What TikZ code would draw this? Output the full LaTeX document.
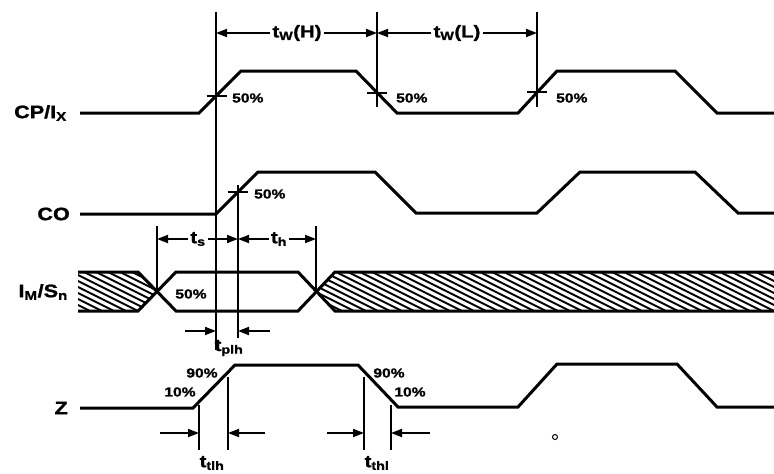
\documentclass[tikz,border=0pt]{standalone}
\usepackage{fontspec}
\setmainfont{Liberation Sans}[FakeStretch=1.2, BoldFeatures={FakeBold=1.3}]
\usetikzlibrary{arrows.meta}
\begin{document}
\begin{tikzpicture}[x=1pt,y=-1pt,
  sig/.style={line width=3pt,line join=miter,line cap=butt},
  refl/.style={line width=1.8pt},
  hatch/.style={line width=2pt},
  dimarr/.style={line width=1.8pt,-{Triangle[length=11pt,width=8pt]}},
  lbl/.style={font=\fontsize{18}{18}\selectfont\bfseries,inner sep=0pt,anchor=east},
  pct/.style={font=\fontsize{13}{13}\selectfont\bfseries,inner sep=0pt},
  tlab/.style={font=\fontsize{17}{17}\selectfont\bfseries,inner sep=2pt}
]
\useasboundingbox (0,0) rectangle (774,474);

% reference coordinates of vertical lines
\coordinate (vA) at (216,0);
\coordinate (vB) at (238,0);
\coordinate (vC) at (377,0);
\coordinate (vD) at (537,0);
\coordinate (vE) at (157,0);
\coordinate (vF) at (316,0);
\coordinate (vG) at (199,0);
\coordinate (vH) at (228,0);
\coordinate (vI) at (364,0);
\coordinate (vJ) at (391,0);

% signal labels
\node[lbl] (lcp) at (67,113) {CP/I\textsubscript{X}};
\node[lbl] (lco) at (70,214) {CO};
\node[lbl] (lim) at (68,292) {I\textsubscript{M}/S\textsubscript{n}};
\node[lbl] (lz)  at (68,408) {Z};

% waveforms
\draw[sig] (80,113) -- (199,113) -- (241,71) -- (356,71) -- (397,113) -- (518,113)
  -- (557,71) -- (675,71) -- (717,113) -- (774,113);
\draw[sig] (80,214) -- (216,214) -- (258,172) -- (375,172) -- (416,213) -- (537,213)
  -- (580,172) -- (695,172) -- (738,213) -- (774,213);
\draw[sig] (80,408) -- (193,408) -- (235,365) -- (358,365) -- (398,407) -- (518,407)
  -- (557,364) -- (677,364) -- (717,407) -- (774,407);

% I_M/S_n hatched regions
\begin{scope}
  \clip (78,272) -- (138,272) -- (157,292) -- (138,311) -- (78,311) -- cycle;
  \foreach \i in {0,12,...,168} \draw[hatch] (\i,272) -- ++(78,39);
\end{scope}
\begin{scope}
  \clip (316,292) -- (335,272) -- (780,272) -- (780,311) -- (335,311) -- cycle;
  \foreach \i in {228,240,...,780} \draw[hatch] (\i,272) -- ++(78,39);
\end{scope}
\draw[sig] (78,272) -- (138,272) -- (176,311) -- (298,311) -- (335,272) -- (774,272);
\draw[sig] (78,311) -- (138,311) -- (176,272) -- (298,272) -- (335,311) -- (774,311);

% vertical reference lines
\draw[refl] (vA |- 0,12) -- (vA |- 0,350);
\draw[refl] (vB |- 0,185) -- (vB |- 0,338);
\draw[refl] (vC |- 0,12) -- (vC |- 0,107);
\draw[refl] (vD |- 0,12) -- (vD |- 0,107);
\draw[refl] (vE |- 0,226) -- (vE |- 0,292);
\draw[refl] (vF |- 0,226) -- (vF |- 0,292);
\draw[refl] (vG |- 0,405) -- (vG |- 0,450);
\draw[refl] (vH |- 0,377) -- (vH |- 0,450);
\draw[refl] (vI |- 0,377) -- (vI |- 0,450);
\draw[refl] (vJ |- 0,405) -- (vJ |- 0,450);

% 50% ticks
\draw[refl] (207,96) -- (227,96);
\draw[refl] (367,93) -- (387,93);
\draw[refl] (527,92) -- (547,92);
\draw[refl] (228,192) -- (248,192);

% percent labels
\node[pct,anchor=west] (p1) at (232,98) {50\%};
\node[pct,anchor=west] (p2) at (396,98) {50\%};
\node[pct,anchor=west] (p3) at (556,98) {50\%};
\node[pct,anchor=west] (p4) at (254,194) {50\%};
\node[pct] (p5) at (191,294) {50\%};
\node[pct] (p6) at (202,373) {90\%};
\node[pct] (p7) at (180,392) {10\%};
\node[pct] (p8) at (389,373) {90\%};
\node[pct] (p9) at (410,392) {10\%};

% top dimensions
\node[tlab] (twh) at (297,33) {t\textsubscript{W}(H)};
\draw[dimarr] (twh.west) -- (twh.west -| vA);
\draw[dimarr] (twh.east) -- (twh.east -| vC);
\node[tlab] (twl) at (457,33) {t\textsubscript{W}(L)};
\draw[dimarr] (twl.west) -- (twl.west -| vC);
\draw[dimarr] (twl.east) -- (twl.east -| vD);

% setup / hold
\node[tlab] (ts) at (198,239) {t\textsubscript{s}};
\draw[dimarr] (ts.west) -- (ts.west -| vE);
\draw[dimarr] (ts.east) -- (ts.east -| vB);
\node[tlab] (th) at (279,239) {t\textsubscript{h}};
\draw[dimarr] (th.west) -- (th.west -| vB);
\draw[dimarr] (th.east) -- (th.east -| vF);

% propagation
\coordinate (a1) at (185,331);
\coordinate (a2) at (270,331);
\draw[dimarr] (a1) -- (a1 -| vA);
\draw[dimarr] (a2) -- (a2 -| vB);
\node[tlab] (tplh) at (229,348) {t\textsubscript{plh}};

% transition times
\coordinate (b1) at (160,433);
\coordinate (b2) at (265,433);
\draw[dimarr] (b1) -- (b1 -| vG);
\draw[dimarr] (b2) -- (b2 -| vH);
\node[tlab] (ttlh) at (212,463) {t\textsubscript{tlh}};
\coordinate (c1) at (327,433);
\coordinate (c2) at (430,433);
\draw[dimarr] (c1) -- (c1 -| vI);
\draw[dimarr] (c2) -- (c2 -| vJ);
\node[tlab] (tthl) at (377,463) {t\textsubscript{thl}};

% small circle mark
\draw[line width=1pt] (555,437) circle (2.5);
\end{tikzpicture}
\end{document}
